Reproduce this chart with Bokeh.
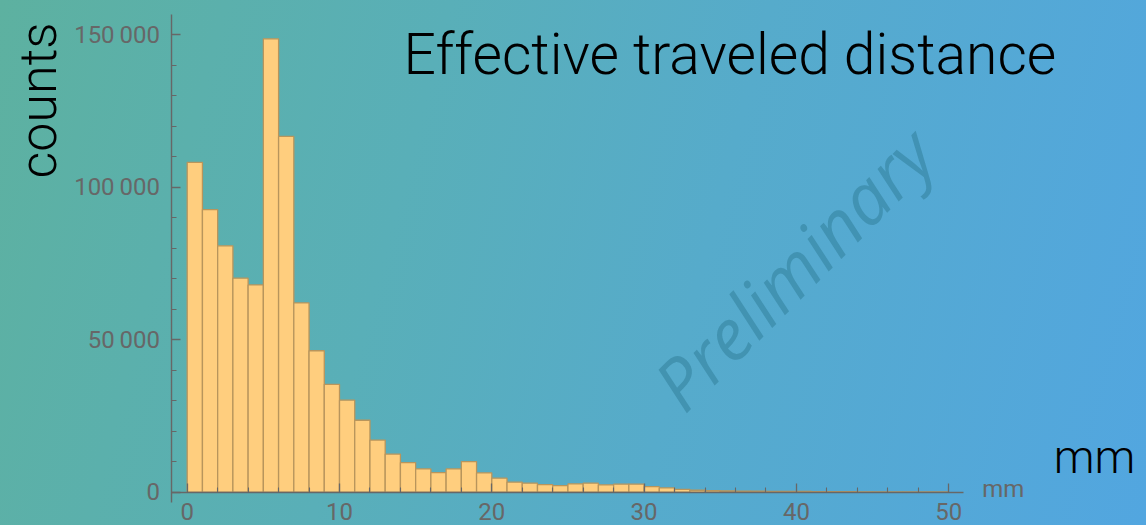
import math

from bokeh.embed import file_html
from bokeh.models import FixedTicker, Label, Range1d
from bokeh.plotting import figure
from bokeh.resources import INLINE

# Histogram of effective traveled distance, 1 mm bins from 0 to 50 mm
bin_left_mm = list(range(0, 50))
bin_right_mm = list(range(1, 51))
counts = [
    108200, 92700, 80800, 70200, 68000, 148700, 116700, 62100, 46400, 35400,
    30200, 23600, 17100, 12500, 9730, 7650, 6450, 7650, 10060, 6340,
    4590, 3280, 2950, 2510, 2190, 2730, 2950, 2400, 2620, 2620,
    1800, 1400, 950, 650, 500, 450, 380, 330, 300, 260,
    230, 200, 180, 160, 140, 120, 110, 100, 90, 80,
]

x_major_ticks = [0, 10, 20, 30, 40, 50]
x_minor_ticks = [t for t in range(0, 51, 2) if t % 10]
y_major_ticks = [0, 50000, 100000, 150000]
y_minor_ticks = [t for t in range(0, 150001, 10000) if t % 50000]
y_tick_labels = {0: "0", 50000: "50\u2009000", 100000: "100\u2009000", 150000: "150\u2009000"}

TICK_GREY = "#676767"
LIGHT_FONT = "Roboto Light"

# The frame spans the whole canvas; the axes sit at fixed data locations
# inside it so the surrounding titles and units are not clipped.
p = figure(
    width=1146,
    height=525,
    x_range=Range1d(-12.26, 62.99),
    y_range=Range1d(-10920, 161280),
    output_backend="svg",
    toolbar_location=None,
    min_border=0,
)
p.styles = {
    "background": "linear-gradient(105deg, #5DB1A0 0%, #59AFB8 35%, #56ABCB 60%, #52A6E0 100%)"
}
p.background_fill_color = None
p.border_fill_color = None
p.outline_line_color = None
p.xgrid.visible = False
p.ygrid.visible = False

p.quad(
    left=bin_left_mm,
    right=bin_right_mm,
    bottom=0,
    top=counts,
    fill_color="#FFCE7E",
    line_color="#B8955C",
    line_width=1.3,
)

for ax in (p.xaxis[0], p.yaxis[0]):
    ax.axis_line_color = TICK_GREY
    ax.axis_line_width = 1.4
    ax.major_tick_line_color = TICK_GREY
    ax.minor_tick_line_color = TICK_GREY
    ax.major_tick_line_width = 1.3
    ax.minor_tick_line_width = 1.1
    ax.major_tick_in = 9
    ax.major_tick_out = 0
    ax.minor_tick_in = 5
    ax.minor_tick_out = 0
    ax.major_label_text_color = TICK_GREY
    ax.major_label_text_font = "Roboto"
    ax.major_label_text_font_size = "24px"

p.xaxis.fixed_location = 0
p.xaxis.bounds = (-1, 51)
p.xaxis.ticker = FixedTicker(ticks=x_major_ticks, minor_ticks=x_minor_ticks)
p.xaxis.major_label_standoff = 11

p.yaxis.fixed_location = -1
p.yaxis.bounds = (-3300, 156700)
p.yaxis.ticker = FixedTicker(ticks=y_major_ticks, minor_ticks=y_minor_ticks)
p.yaxis.major_label_overrides = y_tick_labels
p.yaxis.major_label_standoff = 12

p.add_layout(Label(
    x=14.2, y=143560, text="Effective traveled distance",
    text_font=LIGHT_FONT, text_font_size="57px", text_color="black",
    text_align="left", text_baseline="alphabetic",
))
p.add_layout(Label(
    x=-9.76, y=102900, text="counts", angle=math.pi / 2,
    text_font=LIGHT_FONT, text_font_size="52px", text_color="black",
    text_align="left", text_baseline="alphabetic",
))
p.add_layout(Label(
    x=56.9, y=11700, text="mm",
    text_font=LIGHT_FONT, text_font_size="46px", text_color="black",
    text_align="left", text_baseline="alphabetic",
))
p.add_layout(Label(
    x=52.2, y=890, text="mm",
    text_font="Roboto", text_font_size="24px", text_color=TICK_GREY,
    text_align="left", text_baseline="alphabetic",
))
p.add_layout(Label(
    x=31.4, y=31600, text="Preliminary", angle=math.radians(45),
    text_font="Open Sans", text_font_style="italic", text_font_size="71px",
    text_color="#2E7C95", text_alpha=0.5,
    text_align="left", text_baseline="alphabetic",
))

open("out.html", "w").write(file_html(p, INLINE))
